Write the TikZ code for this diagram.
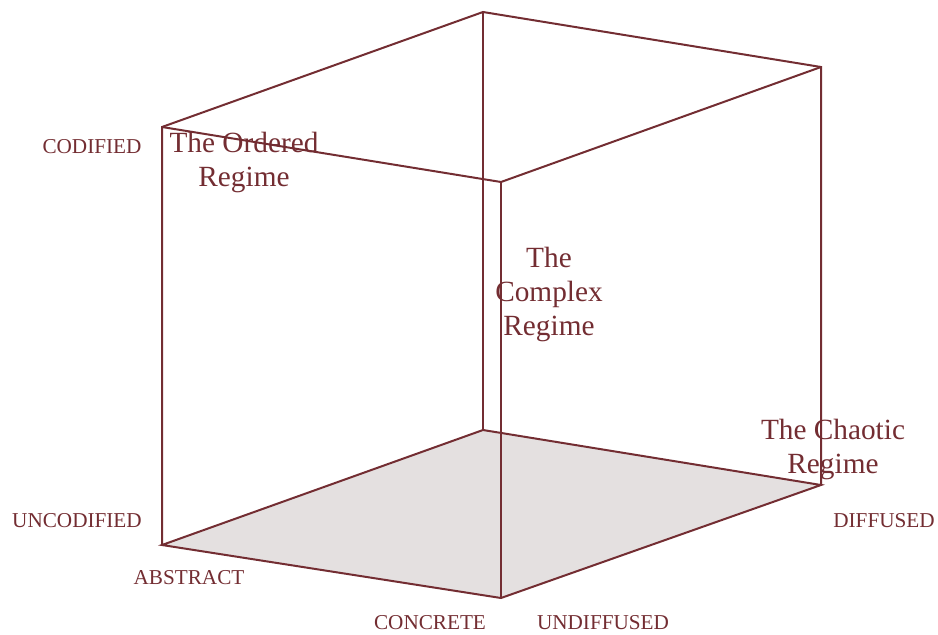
\documentclass[tikz,border=0pt]{standalone}
\usepackage{fontspec}
\setmainfont{Liberation Serif}
\usetikzlibrary{positioning}
\definecolor{regimered}{RGB}{115,45,50}
\definecolor{floorgray}{RGB}{228,224,224}

\begin{document}
\begin{tikzpicture}[
    x=1pt, y=-1pt,
    edge/.style={regimered, line width=2pt},
    axislabel/.style={regimered, font=\fontsize{21.2}{24}\selectfont, inner sep=0pt},
    regime/.style={regimered, font=\fontsize{29.3}{34}\selectfont, align=center, inner sep=0pt},
]

\useasboundingbox (0,0) rectangle (938,635);

%--- Corners of the cube ---
\coordinate (fbl) at (162,545);  % front bottom left
\coordinate (ftl) at (162,127);  % front top left
\coordinate (btl) at (483,12);   % back top left
\coordinate (btr) at (821,67);   % back top right
\coordinate (ftm) at (501,182);  % front top middle
\coordinate (bbl) at (483,430);  % back bottom left
\coordinate (fbm) at (501,598);  % front bottom middle
\coordinate (fbr) at (821,485);  % front bottom right

%============================================================
% Floor
%============================================================
\fill[floorgray] (fbl) -- (bbl) -- (fbr) -- (fbm) -- cycle;

%============================================================
% Edges
%============================================================
\draw[edge] (fbl) -- (ftl) -- (btl) -- (btr) -- (fbr);
\draw[edge] (ftl) -- (ftm) -- (btr);
\draw[edge] (btl) -- (bbl);
\draw[edge, line width=2.6pt] (ftm) -- (fbm);
\draw[edge] (fbl) -- (bbl) -- (fbr) -- (fbm) -- cycle;

%============================================================
% Axis labels
%============================================================
\node[axislabel] (codified)   at (92,147)  {CODIFIED};
\node[axislabel] (uncodified) at (77,521)  {UNCODIFIED};
\node[axislabel] (abstract)   at (189,578) {ABSTRACT};
\node[axislabel] (concrete)   at (430,623) {CONCRETE};
\node[axislabel] (undiffused) at (603,623) {UNDIFFUSED};
\node[axislabel] (diffused)   at (884,521) {DIFFUSED};

%============================================================
% Regimes
%============================================================
\node[regime] (ordered) at (244,162) {The Ordered\\Regime};
\node[regime] (complex) at (549,294) {The\\Complex\\Regime};
\node[regime] (chaotic) at (833,449) {The Chaotic\\Regime};

\end{tikzpicture}
\end{document}
